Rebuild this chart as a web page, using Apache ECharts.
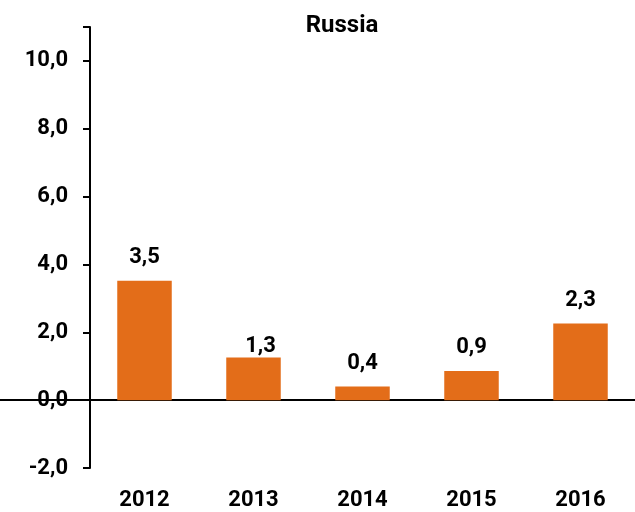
<!DOCTYPE html>
<html>
<head>
<meta charset="utf-8">
<script src="https://cdn.jsdelivr.net/npm/echarts@6/dist/echarts.min.js"></script>
<style>
  html, body { margin: 0; padding: 0; background: #fff; }
  #app { width: 635px; height: 512px; }
</style>
</head>
<body>
<div id="app"></div>
<script>
var years = ['2012', '2013', '2014', '2015', '2016'];
var growth = [3.52, 1.26, 0.4, 0.86, 2.26];
var yTicks = [-2, 0, 2, 4, 6, 8, 10];

var font = 'Roboto';
var orange = '#e36d19';

function comma(v) {
    return v.toFixed(1).replace('.', ',');
}

var barData = growth.map(function (v, i) {
    var item = { value: v };
    // 2013 label sits a bit right and low in the original
    if (i === 1) item.label = { offset: [7, 12] };
    return item;
});

var myChart = echarts.init(document.getElementById('app'));

myChart.setOption({
    animation: false,
    title: {
        text: 'Russia',
        left: 337,
        top: 9,
        textAlign: 'center',
        textStyle: { fontFamily: font, fontWeight: 'bold', fontSize: 24, color: '#000' }
    },
    grid: [
        { left: 90, right: 0, top: 27, bottom: 44 },
        { left: 0, right: 0, top: 27, bottom: 44 }
    ],
    xAxis: [{
        type: 'category',
        data: years,
        gridIndex: 0,
        axisLine: { show: false, onZero: false },
        axisTick: { show: false },
        axisLabel: {
            margin: 21,
            fontFamily: font, fontWeight: 'bold', fontSize: 22, color: '#000'
        }
    }, {
        type: 'category',
        data: [''],
        gridIndex: 1,
        axisLine: { show: true, onZero: true, lineStyle: { color: '#000', width: 2 } },
        axisTick: { show: false },
        axisLabel: { show: false }
    }],
    yAxis: [{
        type: 'value',
        gridIndex: 0,
        min: -2,
        max: 11,
        interval: 2,
        splitLine: { show: false },
        axisLine: { show: true, lineStyle: { color: '#000', width: 2 } },
        axisTick: { show: true, length: 7, lineStyle: { color: '#000', width: 2 } },
        axisLabel: {
            margin: 22,
            fontFamily: font, fontWeight: 'bold', fontSize: 22, color: '#000',
            formatter: function (v) {
                return yTicks.indexOf(v) >= 0 ? comma(v) : '';
            }
        }
    }, {
        type: 'value',
        gridIndex: 1,
        min: -2,
        max: 11,
        show: false
    }],
    series: [{
        type: 'bar',
        xAxisIndex: 0,
        yAxisIndex: 0,
        data: barData,
        barWidth: '50%',
        itemStyle: { color: orange },
        label: {
            show: true,
            position: 'top',
            distance: 12,
            fontFamily: font, fontWeight: 'bold', fontSize: 22, color: '#000',
            formatter: function (p) { return comma(p.value); }
        }
    }]
});
</script>
</body>
</html>
